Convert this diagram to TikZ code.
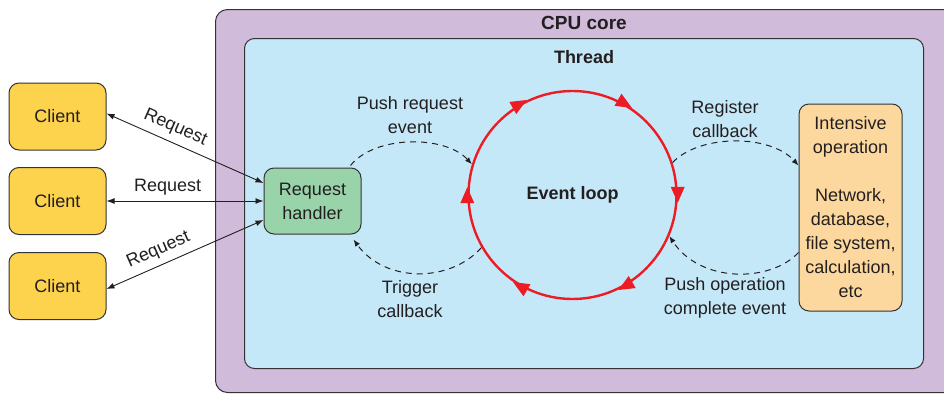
\documentclass[tikz,border=0pt]{standalone}
\usepackage{fontspec}
\setmainfont{Liberation Sans}
\usetikzlibrary{arrows.meta}
\definecolor{cpufill}{RGB}{208,188,218}
\definecolor{threadfill}{RGB}{197,232,248}
\definecolor{clientfill}{RGB}{253,210,77}
\definecolor{handlerfill}{RGB}{153,211,170}
\definecolor{opfill}{RGB}{253,216,158}
\definecolor{bord}{RGB}{51,51,51}
\definecolor{txt}{RGB}{35,31,32}
\definecolor{loopred}{RGB}{237,28,36}
\begin{document}
\begin{tikzpicture}[x=1pt,y=-1pt,
  font=\fontsize{18}{24}\selectfont, text=txt,
  container/.style={draw=bord, line width=1pt, anchor=north west, inner sep=0pt},
  box/.style={draw=bord, line width=1pt, rounded corners=10pt, align=center, inner sep=2pt},
  title/.style={font=\fontsize{18}{22}\selectfont\bfseries},
  reqline/.style={{Latex[length=8pt,width=6pt]}-{Latex[length=8pt,width=6pt]}, draw=txt, line width=0.9pt},
  dashflow/.style={-{Latex[length=7pt,width=5.5pt]}, draw=txt, line width=1pt, dash pattern=on 6pt off 5pt},
  lbl/.style={align=center}
]
\useasboundingbox (0,0) rectangle (944,394);
\clip (0,0) rectangle (944,394);

% containers
\node[container, fill=cpufill, rounded corners=12pt, minimum width=760pt, minimum height=383pt] (cpu) at (215,9) {};
\node[title, font=\fontsize{19}{22}\selectfont\bfseries] (cputitle) at (584,23) {CPU core};
\node[container, fill=threadfill, rounded corners=10pt, minimum width=679pt, minimum height=330pt] (thread) at (244,38) {};
\node[title] (threadtitle) at (584,57) {Thread};

% clients
\node[box, fill=clientfill, minimum width=97pt, minimum height=67pt] (c1) at (57.5,116.5) {Client};
\node[box, fill=clientfill, minimum width=97pt, minimum height=67pt] (c2) at (57.5,201) {Client};
\node[box, fill=clientfill, minimum width=97pt, minimum height=67pt] (c3) at (57.5,286) {Client};

% request handler
\node[box, fill=handlerfill, minimum width=97pt, minimum height=66pt] (rh) at (312.5,201) {Request\\handler};

% intensive operation
\node[box, fill=opfill, minimum width=103pt, minimum height=207pt] (io) at (850.5,207.5)
  {Intensive\\operation\\[24pt]Network,\\database,\\file system,\\calculation,\\etc};

% event loop
\node[circle, draw=loopred, line width=2.4pt, minimum size=208pt, inner sep=0pt,
  font=\fontsize{18}{22}\selectfont\bfseries] (el) at (572.5,195) {Event loop};
\foreach \a in {180,120,60,0,-60,-120}{
  \fill[loopred, shift={(el.\a)}, rotate=\a-90, xshift=-1.2pt]
    (9pt,0pt) -- (-7pt,7pt) -- (-7pt,-7pt) -- cycle;
}

% request connectors
\draw[reqline] ([yshift=3pt]c1.east) -- node[pos=0.4, sloped, above=3pt] {Request} ([yshift=18pt]rh.west);
\draw[reqline] (c2.east) -- node[pos=0.39, above=2pt] {Request} (rh.west);
\draw[reqline] ([yshift=-3pt]c3.east) -- node[pos=0.37, sloped, above=3pt] {Request} ([yshift=-19pt]rh.west);

% dashed flows
\coordinate (rhA) at ([xshift=-11pt,yshift=2pt]rh.north east);
\coordinate (rhB) at ([xshift=-8pt,yshift=-5pt]rh.south east);
\coordinate (ioA) at ([yshift=42pt]io.west);
\coordinate (ioB) at ([yshift=-45pt]io.west);

\draw[dashflow] (rhA) .. controls (375,135) and (445,135) .. (el.163);
\draw[dashflow] (el.210) .. controls (450,283) and (385,283) .. (rhB);
\draw[dashflow] (el.18) .. controls (700,134) and (770,134) .. (ioA);
\draw[dashflow] (ioB) .. controls (770,283) and (700,283) .. (el.-23);

% labels
\node[lbl] (lpush) at (410,115) {Push request\\event};
\node[lbl] (ltrig) at (410,299) {Trigger\\callback};
\node[lbl] (lreg) at (725,119) {Register\\callback};
\node[lbl] (lcomp) at (725,298) {Push operation\\complete event};
\end{tikzpicture}
\end{document}
